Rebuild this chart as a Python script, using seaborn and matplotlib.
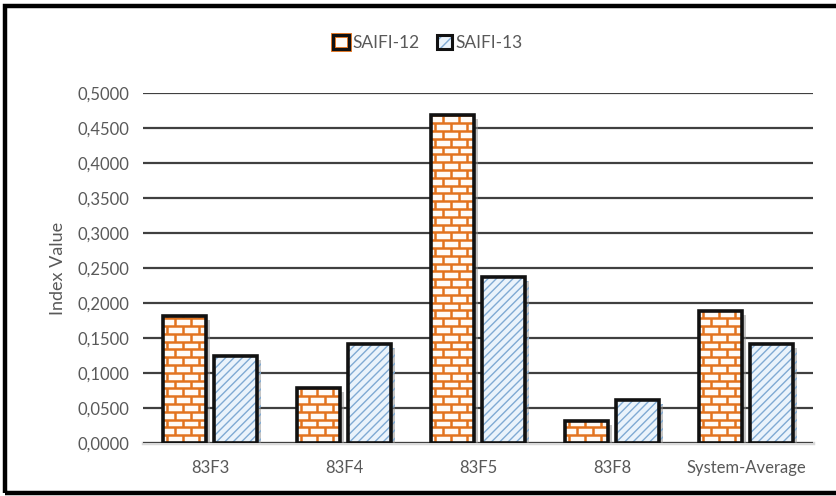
import numpy as np
import pandas as pd
import seaborn as sns
import matplotlib
matplotlib.use("Agg")
import matplotlib.pyplot as plt
from matplotlib.patches import Rectangle, Patch
from matplotlib.collections import LineCollection
from matplotlib import patheffects as pe
from matplotlib.legend_handler import HandlerPatch

# Reliability index data per feeder
categories = ["83F3", "83F4", "83F5", "83F8", "System-Average"]
saifi_12 = [0.182, 0.079, 0.469, 0.031, 0.189]
saifi_13 = [0.125, 0.142, 0.237, 0.061, 0.141]
series_names = ["SAIFI-12", "SAIFI-13"]
y_ticks = [0.0, 0.05, 0.10, 0.15, 0.20, 0.25, 0.30, 0.35, 0.40, 0.45, 0.50]

df = pd.DataFrame({
    "Feeder": categories * 2,
    "Index Value": saifi_12 + saifi_13,
    "Series": [series_names[0]] * len(categories) + [series_names[1]] * len(categories),
})

sns.set_theme(style="white")
plt.rcParams["font.family"] = ["Lato", "DejaVu Sans"]

W, H = 837, 496
fig = plt.figure(figsize=(W / 100, H / 100), dpi=100)
ax = fig.add_axes([143 / W, 1 - 443 / H, (813 - 143) / W, (443 - 93) / H])

BRICK_LINE = "#E2731E"
BRICK_FACE = "#FFFBF6"
HATCH_BLUE = "#7FAAD3"
HATCH_FACE = "#EAF3FB"
OUTLINE = "#111111"

sns.barplot(data=df, x="Feeder", y="Index Value", hue="Series", ax=ax,
            order=categories, hue_order=series_names,
            width=0.77, gap=0.17, legend=False,
            palette=[BRICK_FACE, HATCH_FACE], saturation=1)

ax.set_ylim(0, 0.5)
ax.set_xlim(-0.5, len(categories) - 0.5)
ax.set_yticks(y_ticks)
ax.set_yticklabels([f"{v:.4f}".replace(".", ",") for v in y_ticks])
ax.yaxis.grid(True, color="#404040", linewidth=1.6)
ax.set_axisbelow(True)
for s in ["top", "right", "left"]:
    ax.spines[s].set_visible(False)
ax.spines["bottom"].set_color("#D9D9D9")
ax.spines["bottom"].set_linewidth(2.5)
ax.spines["bottom"].set_zorder(0.5)
ax.tick_params(axis="both", length=0, labelsize=12, labelcolor="#595959", pad=10)
ax.tick_params(axis="x", pad=12)
ax.set_xlabel("")
ax.set_ylabel("Index Value", fontsize=13, color="#595959", labelpad=8)

px_to_data_x = 1.0 / ((813 - 143) / len(categories))  # data units per pixel (x)
px_to_data_y = 0.5 / (443 - 93)                        # data units per pixel (y)

shadow = [pe.SimplePatchShadow(offset=(3, -3), shadow_rgbFace="#8C8C8C", alpha=0.5), pe.Normal()]


def brick_lines(x0, x1, y0, y1):
    """Mortar lines of a brick wall inside the rectangle (data coords)."""
    row_h = 7.8 * px_to_data_y
    brick_w = 16.0 * px_to_data_x
    segs = []
    r = 0
    while True:
        yb = y0 + r * row_h
        if yb > y1:
            break
        yt = min(yb + row_h, y1)
        segs.append([(x0, yb), (x1, yb)])
        offset = 0 if r % 2 == 0 else brick_w / 2
        xv = x0 + offset + brick_w * 0.25
        while xv < x1:
            segs.append([(xv, yb), (xv, yt)])
            xv += brick_w
        r += 1
    return segs


n = len(categories)
bars = list(ax.patches)
for i, bar in enumerate(bars):
    x0, y0 = bar.get_x(), bar.get_y()
    w, h = bar.get_width(), bar.get_height()
    bar.set_path_effects(shadow)
    if i < n:
        bar.set_facecolor(BRICK_FACE)
        bar.set_linewidth(0)
        lc = LineCollection(brick_lines(x0, x0 + w, y0, y0 + h), colors=BRICK_LINE,
                            linewidths=1.8, zorder=bar.get_zorder() + 0.1)
        lc.set_clip_path(bar)
        ax.add_collection(lc)
    else:
        bar.set_facecolor(HATCH_FACE)
        bar.set_hatch("////")
        bar.set_edgecolor(HATCH_BLUE)
        bar.set_linewidth(0)
    outline = Rectangle((x0, y0), w, h, facecolor="none", edgecolor=OUTLINE,
                        linewidth=2.6, zorder=bar.get_zorder() + 0.2)
    ax.add_patch(outline)


# Legend swatches with the same fill patterns
class SwatchHandler(HandlerPatch):
    def __init__(self, kind):
        super().__init__()
        self.kind = kind

    def create_artists(self, legend, orig_handle, xdescent, ydescent, width, height, fontsize, trans):
        arts = []
        if self.kind == "brick":
            arts.append(Rectangle((-xdescent, -ydescent), width, height, facecolor=BRICK_FACE,
                                  edgecolor=BRICK_LINE, linewidth=3.5, transform=trans))
        else:
            arts.append(Rectangle((-xdescent, -ydescent), width, height, facecolor=HATCH_FACE,
                                  edgecolor=HATCH_BLUE, hatch="///", linewidth=0, transform=trans))
        arts.append(Rectangle((-xdescent, -ydescent), width, height, facecolor="none",
                              edgecolor=OUTLINE, linewidth=2.2, transform=trans))
        return arts


h12 = Patch(facecolor=BRICK_FACE)
h13 = Patch(facecolor=HATCH_FACE)
leg = fig.legend([h12, h13], series_names, loc="center", bbox_to_anchor=(428 / W, 1 - 43 / H),
                 ncol=2, frameon=False, fontsize=12.5, handlelength=0.9, handleheight=0.9,
                 handletextpad=0.2, columnspacing=1.0,
                 handler_map={h12: SwatchHandler("brick"), h13: SwatchHandler("hatch")})
for t in leg.get_texts():
    t.set_color("#595959")

# Chart frame
fig.patches.append(Rectangle((5.5 / W, 3.5 / H), (W + 4 - 5.5) / W, (H - 9) / H,
                             transform=fig.transFigure, facecolor="none",
                             edgecolor="black", linewidth=3.2, clip_on=False))

fig.savefig("out.png", dpi=100, facecolor="white")
